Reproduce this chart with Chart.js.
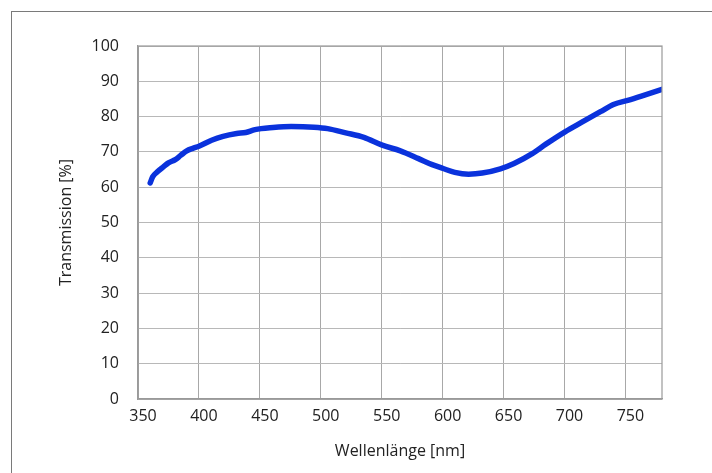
<!DOCTYPE html>
<html>
<head>
<meta charset="utf-8">
<script src="https://cdn.jsdelivr.net/npm/chart.js@4/dist/chart.umd.min.js"></script>
<style>
  html, body { margin: 0; padding: 0; background: #fff; }
  #wrap { width: 712px; height: 473px; }
</style>
</head>
<body>
<div id="wrap"><canvas id="transChart" width="712" height="473"></canvas></div>
<script>
// === Data ===
const wavelengths = [360, 362, 365.7, 371, 375, 380.6, 385, 390, 395, 400, 410.4, 419.8, 431, 438.4, 446, 460.8, 475.7, 494.4, 505.6, 520.5, 535.4, 550.4, 565.3, 580.2, 591.4, 600.4, 610, 621.3, 632.5, 647.4, 658.6, 673.5, 684.7, 700.4, 714.6, 729.5, 740.7, 751.9, 763.1, 780];
const transmission = [61.2, 62.9, 64.3, 65.8, 66.9, 67.8, 69.0, 70.3, 71.0, 71.6, 73.3, 74.4, 75.2, 75.5, 76.3, 76.9, 77.2, 77.0, 76.6, 75.4, 74.1, 71.9, 70.3, 68.1, 66.4, 65.3, 64.2, 63.7, 64.0, 65.2, 66.7, 69.5, 72.2, 75.7, 78.5, 81.4, 83.5, 84.6, 85.8, 87.7];
const xTickStep = 50;
const yTickStep = 10;

const FONT = "'Open Sans', 'Liberation Sans', sans-serif";

// outer frame + right edge of plot area
const framePlugin = {
  id: "frame",
  beforeDraw(chart) {
    const ctx = chart.ctx;
    ctx.save();
    ctx.strokeStyle = "#7a7a7a";
    ctx.lineWidth = 1;
    ctx.strokeRect(11.5, 11.5, 760, 520);
    ctx.restore();
  },
  afterDatasetsDraw(chart) {
    const { ctx, chartArea } = chart;
    ctx.save();
    ctx.strokeStyle = "#9a9a9a";
    ctx.lineWidth = 1.2;
    ctx.strokeRect(chartArea.left, chartArea.top, chartArea.right - chartArea.left, chartArea.bottom - chartArea.top);
    ctx.restore();
  }
};

const points = wavelengths.map((w, i) => ({ x: w, y: transmission[i] }));

new Chart(document.getElementById("transChart"), {
  type: "line",
  data: {
    datasets: [{
      label: "Transmission",
      data: points,
      borderColor: "#0a32dc",
      borderWidth: 5.5,
      borderCapStyle: "round",
      borderJoinStyle: "round",
      pointRadius: 0,
      cubicInterpolationMode: "monotone",
      fill: false
    }]
  },
  options: {
    responsive: false,
    animation: false,
    layout: { padding: { left: 0, top: 46, right: 50, bottom: 0 } },
    plugins: {
      legend: { display: false },
      tooltip: { enabled: false }
    },
    scales: {
      x: {
        type: "linear",
        min: 350,
        max: 780,
        afterFit(scale) { scale.height = 74; },
        ticks: {
          stepSize: xTickStep,
          includeBounds: false,
          padding: 8,
          labelOffset: 5,
          color: "#222",
          font: { family: FONT, size: 16 }
        },
        grid: { color: "#a8a8a8", lineWidth: 1, drawTicks: false },
        border: { color: "#9a9a9a", width: 1.2 },
        title: {
          display: true,
          text: "Wellenlänge [nm]",
          color: "#222",
          font: { family: FONT, size: 16 },
          padding: { top: 0, bottom: 12 }
        }
      },
      y: {
        min: 0,
        max: 100,
        afterFit(scale) { scale.width = 138; },
        ticks: {
          stepSize: yTickStep,
          padding: 19,
          color: "#222",
          font: { family: FONT, size: 16 }
        },
        grid: { color: "#b8b8b8", lineWidth: 1, drawTicks: false },
        border: { color: "#9a9a9a", width: 1.2 },
        title: {
          display: true,
          text: "Transmission [%]",
          color: "#222",
          font: { family: FONT, size: 16 },
          padding: { top: 57, bottom: 0 }
        }
      }
    }
  },
  plugins: [framePlugin]
});
</script>
</body>
</html>
